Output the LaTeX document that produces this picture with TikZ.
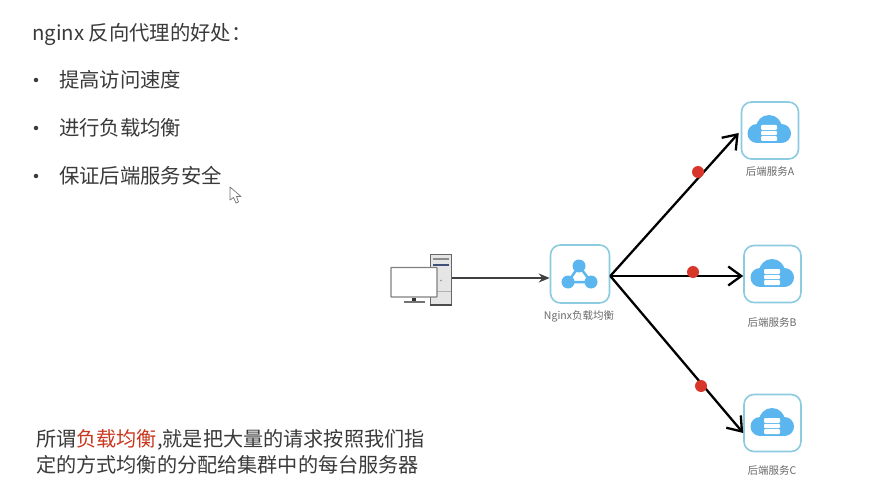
\documentclass[tikz,border=0pt]{standalone}
\usepackage{fontspec}
\setmainfont{Noto Sans CJK SC}
\usetikzlibrary{arrows.meta}
\definecolor{txt}{HTML}{3A3A3A}
\definecolor{lbl}{HTML}{6A6A6A}
\definecolor{rim}{HTML}{8CCBE0}
\definecolor{ico}{HTML}{5BB5EE}
\definecolor{reddot}{HTML}{D9362B}
\definecolor{redtxt}{HTML}{C8371E}
\definecolor{navy}{HTML}{3F4F78}
\tikzset{
  body/.style={font=\fontsize{20.35}{24}\selectfont, text=txt, anchor=west, inner sep=0pt},
  note/.style={font=\fontsize{20.15}{24}\selectfont, text=txt, anchor=west, inner sep=0pt},
  tinylabel/.style={font=\fontsize{10.5}{12}\selectfont, text=lbl, inner sep=0pt},
  iconbox/.style={draw=rim, line width=1.6pt, rounded corners=10pt, fill=white, minimum width=57pt, minimum height=57pt, inner sep=0pt},
  dot/.style={circle, fill=reddot, minimum size=12pt, inner sep=0pt},
  blackarrow/.style={black, line width=2.3pt, -{Straight Barb[length=13pt,width=19pt,line width=2.3pt]}},
  cloudicon/.pic={
    \fill[ico] (-1,-2) circle[radius=13pt];
    \fill[ico] (-13,3.5) circle[radius=9.5pt];
    \fill[ico] (11.5,3.5) circle[radius=9.5pt];
    \fill[ico] (-13,-6) rectangle (11.5,13);
    \fill[white, rounded corners=1pt] (-9,-5) rectangle (7,-0.2);
    \fill[white, rounded corners=1pt] (-9,0.8) rectangle (7,5.2);
    \fill[white, rounded corners=1pt] (-9,6.2) rectangle (7,11);
  }
}
\begin{document}
\begin{tikzpicture}[x=1pt,y=-1pt]
\useasboundingbox (0,0) rectangle (879,500);
\fill[white] (0,0) rectangle (879,500);
% left texts
\node[body] (title) at (32,34) {nginx 反向代理的好处：};
\foreach \n/\yy/\t in {a/80/提高访问速度,b/128/进行负载均衡,c/176/保证后端服务安全}{
  \node[circle, fill=txt, minimum size=4.5pt, inner sep=0pt] (bul\n) at (36,\yy) {};
  \node[body] (item\n) at (59,\yy) {\t};
}
\node[note] (line1) at (36,440) {所谓\textcolor{redtxt}{负载均衡},就是把大量的请求按照我们指};
\node[note] (line2) at (36,465) {定的方式均衡的分配给集群中的每台服务器};
% cursor
\draw[fill=white, draw=black!55, line width=.7pt, line join=round]
  (230,187) -- (230,200) -- (233.5,197.5) -- (236,203) -- (238.5,202) -- (236.5,196.5) -- (241,196.5) -- cycle;
% computer
\draw[fill=black!10, draw=black!60, line width=1.2pt] (430.5,254.5) rectangle (451.5,305);
\fill[black!70] (430,304) rectangle (452,306);
\fill[black!45] (433,258) rectangle (449,260);
\fill[navy] (433,263.5) rectangle (449,265.5);
\draw[black!30, line width=.5pt] (431,291) -- (451,291);
\fill[black!45] (441,280.5) circle[radius=.8pt];
\draw[fill=white, draw=black!50, line width=1.4pt, rounded corners=.5pt] (391,267.5) rectangle (437,297);
\fill[black!80] (411.5,297.5) rectangle (416,301.5);
\fill[black!55] (404,301) rectangle (425,302.5);
\coordinate (tower) at (452,278);
% icon boxes
\node[iconbox, minimum width=59pt, minimum height=58pt] (nginx) at (580,274) {};
\node[iconbox] (srvA) at (770,130.5) {};
\node[iconbox] (srvB) at (772.5,274) {};
\node[iconbox] (srvC) at (772.5,423) {};
% nginx icon
\draw[ico, line width=2.5pt] (579,266) -- (568,282) -- (591,282) -- cycle;
\foreach \p in {(579,266),(568,282),(591,282)} \fill[ico] \p circle[radius=6.5pt];
% clouds
\pic at (770,130) {cloudicon};
\pic at (773,274) {cloudicon};
\pic at (773,423) {cloudicon};
% labels
\node[tinylabel] (labN) at (579,316) {Nginx负载均衡};
\node[tinylabel] (labA) at (770,172) {后端服务A};
\node[tinylabel] (labB) at (772,323) {后端服务B};
\node[tinylabel] (labC) at (772,471) {后端服务C};
% connectors
\draw[black!75, line width=1.3pt, -{Stealth[length=11pt,width=9pt]}] (tower) -- ([yshift=-4pt]nginx.west);
\coordinate (hub) at ([yshift=-2pt]nginx.east);
\draw[blackarrow] (hub) -- ([xshift=-2pt,yshift=-2.5pt]srvA.west);
\draw[blackarrow] (hub) -- ([yshift=-2pt]srvB.west);
\draw[blackarrow] (hub) -- ([yshift=-10pt]srvC.west);
% dots
\node[dot] (d1) at (698,172) {};
\node[dot] (d2) at (693,272) {};
\node[dot] (d3) at (701,386) {};
\end{tikzpicture}
\end{document}
